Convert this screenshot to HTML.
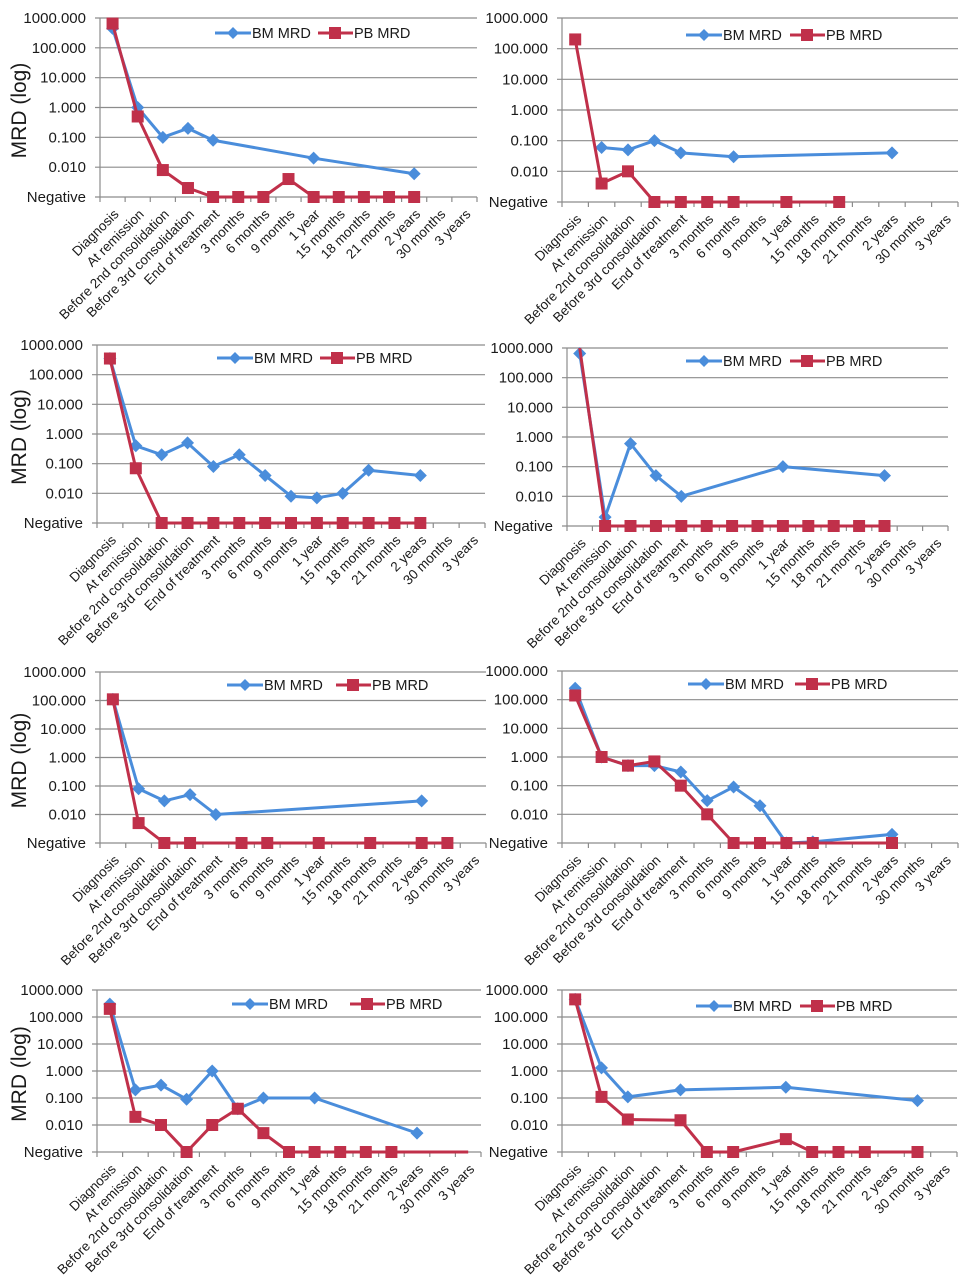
<!DOCTYPE html>
<html><head><meta charset="utf-8">
<style>
html,body{margin:0;padding:0;background:#fff;}
svg{display:block;font-family:"Liberation Sans",sans-serif;}
</style></head>
<body>
<svg id="chart" width="962" height="1280" viewBox="0 0 962 1280" xmlns="http://www.w3.org/2000/svg"></svg>
<script>
// ---- data ----
const categories = ["Diagnosis","At remission","Before 2nd consolidation","Before 3rd consolidation","End of treatment","3 months","6 months","9 months","1 year","15 months","18 months","21 months","2 years","30 months","3 years"];
const yTickLabels = ["1000.000","100.000","10.000","1.000","0.100","0.010","Negative"];
const yTickValues = [1000,100,10,1,0.1,0.01,0.001];
const NEG = 0.001;
const N = null;
// panel 1
const bm1 = [450,1.0,0.1,0.2,0.08,N,N,N,0.02,N,N,N,0.006,N,N];
const pb1 = [650,0.5,0.008,0.002,NEG,NEG,NEG,0.004,NEG,NEG,NEG,NEG,NEG,N,N];
// panel 2
const bm2 = [N,0.06,0.05,0.1,0.04,N,0.03,N,N,N,N,N,0.04,N,N];
const pb2 = [200,0.004,0.01,NEG,NEG,NEG,NEG,N,NEG,N,NEG,N,N,N,N];
// panel 3
const bm3 = [350,0.4,0.2,0.5,0.08,0.2,0.04,0.008,0.007,0.01,0.06,N,0.04,N,N];
const pb3 = [350,0.07,NEG,NEG,NEG,NEG,NEG,NEG,NEG,NEG,NEG,NEG,NEG,N,N];
// panel 4
const bm4 = [650,0.002,0.6,0.05,0.01,N,N,N,0.1,N,N,N,0.05,N,N];
const pb4 = [1000,NEG,NEG,NEG,NEG,NEG,NEG,NEG,NEG,NEG,NEG,NEG,NEG,N,N];
// panel 5
const bm5 = [110,0.08,0.03,0.05,0.01,N,N,N,N,N,N,N,0.03,N,N];
const pb5 = [110,0.005,NEG,NEG,N,NEG,NEG,N,NEG,N,NEG,N,NEG,NEG,N];
// panel 6
const bm6 = [250,1.0,0.5,0.5,0.3,0.03,0.09,0.02,0.001,0.0011,N,N,0.002,N,N];
const pb6 = [140,1.0,0.5,0.7,0.1,0.01,NEG,NEG,NEG,NEG,N,N,NEG,N,N];
// panel 7
const bm7 = [300,0.2,0.3,0.09,1.0,0.04,0.1,N,0.1,N,N,N,0.005,N,N];
const pb7 = [200,0.02,0.01,NEG,0.01,0.04,0.005,NEG,NEG,NEG,NEG,NEG,NEG,NEG,NEG];
// panel 8
const bm8 = [450,1.3,0.11,N,0.2,N,N,N,0.25,N,N,N,N,0.08,N];
const pb8 = [450,0.11,0.016,N,0.015,NEG,NEG,N,0.003,NEG,NEG,NEG,N,NEG,N];

const panels = [
 {id:1,x0:100,x1:477,top:18,bot:197,title:true,bm:bm1,pb:pb1,leg:[215,33,318],noMk:[]},
 {id:2,x0:562,x1:958,top:18,bot:202,title:false,bm:bm2,pb:pb2,leg:[686,35,790],noMk:[]},
 {id:3,x0:97,x1:485,top:345,bot:523,title:true,bm:bm3,pb:pb3,leg:[217,358,320],noMk:[]},
 {id:4,x0:567,x1:948,top:348,bot:526,title:false,bm:bm4,pb:pb4,leg:[686,361,790],noMk:[0]},
 {id:5,x0:100,x1:486,top:672,bot:843,title:true,bm:bm5,pb:pb5,leg:[227,685,336],noMk:[]},
 {id:6,x0:562,x1:958,top:671,bot:843,title:false,bm:bm6,pb:pb6,leg:[688,684,795],noMk:[]},
 {id:7,x0:97,x1:481,top:990,bot:1152,title:true,bm:bm7,pb:pb7,leg:[232,1004,350],noMk:[12,13,14]},
 {id:8,x0:562,x1:957,top:990,bot:1152,title:false,bm:bm8,pb:pb8,leg:[696,1006,800],noMk:[]}
];
const BLUE="#4a8ddb", RED="#c0304a";
const svg=document.getElementById('chart');
const NS="http://www.w3.org/2000/svg";
function mk(tag,attrs,parent){const e=document.createElementNS(NS,tag);for(const k in attrs)e.setAttribute(k,attrs[k]);(parent||svg).appendChild(e);return e;}
function diamond(g,x,y,r){return mk('polygon',{points:`${x},${y-r} ${x+r},${y} ${x},${y+r} ${x-r},${y}`,fill:BLUE},g);}
function square(g,x,y,s){return mk('rect',{x:x-s/2,y:y-s/2,width:s,height:s,fill:RED},g);}

panels.forEach(p=>{
  const g=mk('g',{});
  
  
  const n=categories.length, step=(p.x1-p.x0)/n;
  const xs=i=>p.x0+step*(i+0.5);
  const ys=v=>p.top+(3-Math.log10(v))*(p.bot-p.top)/6;
  yTickValues.forEach((v,i)=>{
    const y=ys(v);
    const l=mk('line',{x1:p.x0-5,x2:p.x1,y1:y,y2:y,stroke:'#8c8c8c','stroke-width':1.2},g);
    
    
    const t=mk('text',{x:p.x0-14,y:y+5,'text-anchor':'end','font-size':15,fill:'#1a1a1a'},g);
    t.textContent=yTickLabels[i];
    
    
  });
  const ax=mk('line',{x1:p.x0,x2:p.x0,y1:p.top,y2:p.bot,stroke:'#8c8c8c','stroke-width':1.2},g);
  
  
  for(let i=0;i<=n;i++){
    const x=p.x0+step*i;
    mk('line',{x1:x,x2:x,y1:p.bot,y2:p.bot+5,stroke:'#8c8c8c','stroke-width':1.2},g);
  }
  categories.forEach((c,i)=>{
    const x=xs(i)+7,y=p.bot+18;
    const t=mk('text',{x:x,y:y,'text-anchor':'end','font-size':13.5,fill:'#1a1a1a',transform:`rotate(-45 ${x} ${y})`},g);
    t.textContent=c;
    
    
  });
  if(p.title){
    const cy=(p.top+p.bot)/2+3;
    const t=mk('text',{x:26,y:cy,'text-anchor':'middle','font-size':21,fill:'#1a1a1a',transform:`rotate(-90 26 ${cy})`},g);
    t.textContent='MRD (log)';
    
    
  }
  [[p.bm,BLUE,'bm'],[p.pb,RED,'pb']].forEach(([arr,col,key])=>{
    const pts=[];
    arr.forEach((v,i)=>{if(v!==null)pts.push([xs(i),ys(v),i]);});
    const pl=mk('polyline',{points:pts.map(q=>q[0]+','+q[1]).join(' '),fill:'none',stroke:col,'stroke-width':3,'stroke-linejoin':'round'},g);
    
    
    pts.forEach(q=>{
      if(key==='pb' && p.noMk.indexOf(q[2])>=0) return;
      const m = key==='bm'? diamond(g,q[0],q[1],6.5) : square(g,q[0],q[1],12);
      
      
    });
  });
  const [lx,ly,px]=p.leg;
  const lg=mk('g',{},g);
  
  
  mk('line',{x1:lx,x2:lx+36,y1:ly,y2:ly,stroke:BLUE,'stroke-width':3},lg);
  diamond(lg,lx+18,ly,6);
  const t1=mk('text',{x:lx+37,y:ly+5,'font-size':14.5,fill:'#1a1a1a'},lg);
  t1.textContent='BM MRD';
  
  
  mk('line',{x1:px,x2:px+35,y1:ly,y2:ly,stroke:RED,'stroke-width':3},lg);
  square(lg,px+17,ly,12);
  const t2=mk('text',{x:px+36,y:ly+5,'font-size':14.5,fill:'#1a1a1a'},lg);
  t2.textContent='PB MRD';
  
  
});
</script>
</body></html>
